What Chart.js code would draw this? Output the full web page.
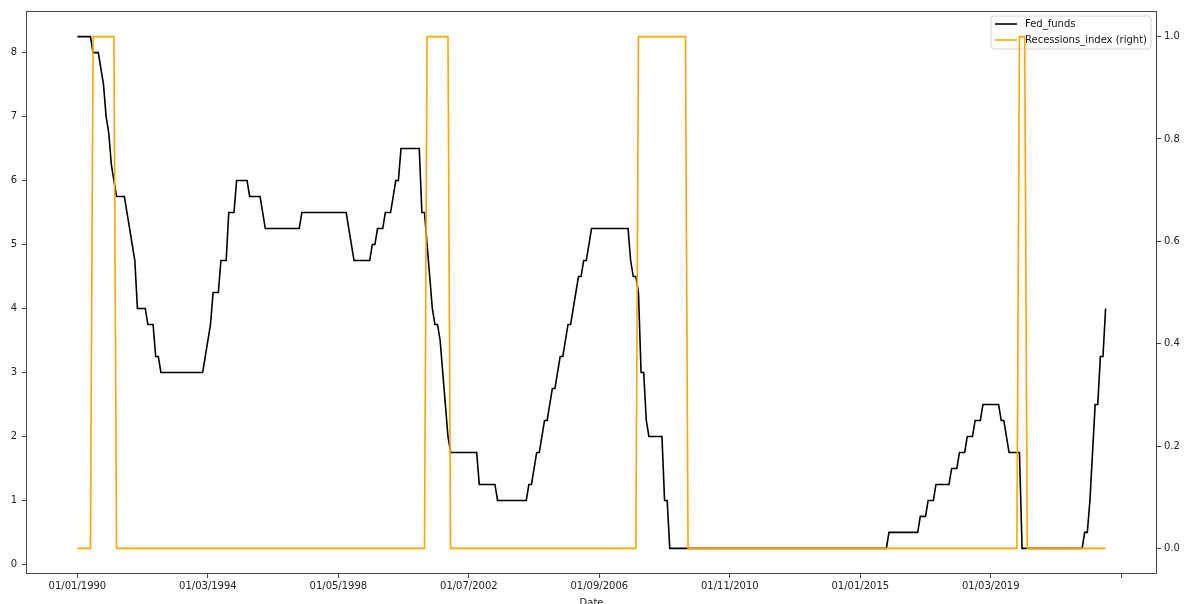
<!DOCTYPE html>
<html>
<head>
<meta charset="utf-8">
<title>Fed funds vs recessions</title>
<script src="https://cdn.jsdelivr.net/npm/chart.js@4.4.0/dist/chart.umd.min.js"></script>
<style>
    html, body { margin: 0; padding: 0; background: #fff; }
    canvas { display: block; }
</style>
</head>
<body>
<canvas id="fedChart" width="1192" height="604"></canvas>
<script>
// Monthly values, Jan 1990 .. Nov 2022 (one row per year)
const fedFunds = [
    8.25, 8.25, 8.25, 8.25, 8.25, 8.25, 8, 8, 8, 7.75, 7.5, 7,              // 1990
    6.75, 6.25, 6, 5.75, 5.75, 5.75, 5.75, 5.5, 5.25, 5, 4.75, 4,           // 1991
    4, 4, 4, 3.75, 3.75, 3.75, 3.25, 3.25, 3, 3, 3, 3,                      // 1992
    3, 3, 3, 3, 3, 3, 3, 3, 3, 3, 3, 3,                                     // 1993
    3, 3.25, 3.5, 3.75, 4.25, 4.25, 4.25, 4.75, 4.75, 4.75, 5.5, 5.5,       // 1994
    5.5, 6, 6, 6, 6, 6, 5.75, 5.75, 5.75, 5.75, 5.75, 5.5,                  // 1995
    5.25, 5.25, 5.25, 5.25, 5.25, 5.25, 5.25, 5.25, 5.25, 5.25, 5.25, 5.25, // 1996
    5.25, 5.25, 5.5, 5.5, 5.5, 5.5, 5.5, 5.5, 5.5, 5.5, 5.5, 5.5,           // 1997
    5.5, 5.5, 5.5, 5.5, 5.5, 5.5, 5.5, 5.5, 5.25, 5, 4.75, 4.75,            // 1998
    4.75, 4.75, 4.75, 4.75, 4.75, 5, 5, 5.25, 5.25, 5.25, 5.5, 5.5,         // 1999
    5.5, 5.75, 6, 6, 6.5, 6.5, 6.5, 6.5, 6.5, 6.5, 6.5, 6.5,                // 2000
    5.5, 5.5, 5, 4.5, 4, 3.75, 3.75, 3.5, 3, 2.5, 2, 1.75,                  // 2001
    1.75, 1.75, 1.75, 1.75, 1.75, 1.75, 1.75, 1.75, 1.75, 1.75, 1.25, 1.25, // 2002
    1.25, 1.25, 1.25, 1.25, 1.25, 1, 1, 1, 1, 1, 1, 1,                      // 2003
    1, 1, 1, 1, 1, 1.25, 1.25, 1.5, 1.75, 1.75, 2, 2.25,                    // 2004
    2.25, 2.5, 2.75, 2.75, 3, 3.25, 3.25, 3.5, 3.75, 3.75, 4, 4.25,         // 2005
    4.5, 4.5, 4.75, 4.75, 5, 5.25, 5.25, 5.25, 5.25, 5.25, 5.25, 5.25,      // 2006
    5.25, 5.25, 5.25, 5.25, 5.25, 5.25, 5.25, 5.25, 4.75, 4.5, 4.5, 4.25,   // 2007
    3, 3, 2.25, 2, 2, 2, 2, 2, 2, 1, 1, 0.25,                               // 2008
    0.25, 0.25, 0.25, 0.25, 0.25, 0.25, 0.25, 0.25, 0.25, 0.25, 0.25, 0.25, // 2009
    0.25, 0.25, 0.25, 0.25, 0.25, 0.25, 0.25, 0.25, 0.25, 0.25, 0.25, 0.25, // 2010
    0.25, 0.25, 0.25, 0.25, 0.25, 0.25, 0.25, 0.25, 0.25, 0.25, 0.25, 0.25, // 2011
    0.25, 0.25, 0.25, 0.25, 0.25, 0.25, 0.25, 0.25, 0.25, 0.25, 0.25, 0.25, // 2012
    0.25, 0.25, 0.25, 0.25, 0.25, 0.25, 0.25, 0.25, 0.25, 0.25, 0.25, 0.25, // 2013
    0.25, 0.25, 0.25, 0.25, 0.25, 0.25, 0.25, 0.25, 0.25, 0.25, 0.25, 0.25, // 2014
    0.25, 0.25, 0.25, 0.25, 0.25, 0.25, 0.25, 0.25, 0.25, 0.25, 0.25, 0.5,  // 2015
    0.5, 0.5, 0.5, 0.5, 0.5, 0.5, 0.5, 0.5, 0.5, 0.5, 0.5, 0.75,            // 2016
    0.75, 0.75, 1, 1, 1, 1.25, 1.25, 1.25, 1.25, 1.25, 1.25, 1.5,           // 2017
    1.5, 1.5, 1.75, 1.75, 1.75, 2, 2, 2, 2.25, 2.25, 2.25, 2.5,             // 2018
    2.5, 2.5, 2.5, 2.5, 2.5, 2.5, 2.25, 2.25, 2, 1.75, 1.75, 1.75,          // 2019
    1.75, 1.75, 0.25, 0.25, 0.25, 0.25, 0.25, 0.25, 0.25, 0.25, 0.25, 0.25, // 2020
    0.25, 0.25, 0.25, 0.25, 0.25, 0.25, 0.25, 0.25, 0.25, 0.25, 0.25, 0.25, // 2021
    0.25, 0.25, 0.5, 0.5, 1, 1.75, 2.5, 2.5, 3.25, 3.25, 4                  // 2022
];

const recessionIndex = [
    0, 0, 0, 0, 0, 0, 1, 1, 1, 1, 1, 1, // 1990
    1, 1, 1, 0, 0, 0, 0, 0, 0, 0, 0, 0, // 1991
    0, 0, 0, 0, 0, 0, 0, 0, 0, 0, 0, 0, // 1992
    0, 0, 0, 0, 0, 0, 0, 0, 0, 0, 0, 0, // 1993
    0, 0, 0, 0, 0, 0, 0, 0, 0, 0, 0, 0, // 1994
    0, 0, 0, 0, 0, 0, 0, 0, 0, 0, 0, 0, // 1995
    0, 0, 0, 0, 0, 0, 0, 0, 0, 0, 0, 0, // 1996
    0, 0, 0, 0, 0, 0, 0, 0, 0, 0, 0, 0, // 1997
    0, 0, 0, 0, 0, 0, 0, 0, 0, 0, 0, 0, // 1998
    0, 0, 0, 0, 0, 0, 0, 0, 0, 0, 0, 0, // 1999
    0, 0, 0, 0, 0, 0, 0, 0, 0, 0, 0, 0, // 2000
    0, 0, 1, 1, 1, 1, 1, 1, 1, 1, 1, 0, // 2001
    0, 0, 0, 0, 0, 0, 0, 0, 0, 0, 0, 0, // 2002
    0, 0, 0, 0, 0, 0, 0, 0, 0, 0, 0, 0, // 2003
    0, 0, 0, 0, 0, 0, 0, 0, 0, 0, 0, 0, // 2004
    0, 0, 0, 0, 0, 0, 0, 0, 0, 0, 0, 0, // 2005
    0, 0, 0, 0, 0, 0, 0, 0, 0, 0, 0, 0, // 2006
    0, 0, 0, 0, 0, 0, 0, 0, 0, 0, 0, 1, // 2007
    1, 1, 1, 1, 1, 1, 1, 1, 1, 1, 1, 1, // 2008
    1, 1, 1, 1, 1, 1, 0, 0, 0, 0, 0, 0, // 2009
    0, 0, 0, 0, 0, 0, 0, 0, 0, 0, 0, 0, // 2010
    0, 0, 0, 0, 0, 0, 0, 0, 0, 0, 0, 0, // 2011
    0, 0, 0, 0, 0, 0, 0, 0, 0, 0, 0, 0, // 2012
    0, 0, 0, 0, 0, 0, 0, 0, 0, 0, 0, 0, // 2013
    0, 0, 0, 0, 0, 0, 0, 0, 0, 0, 0, 0, // 2014
    0, 0, 0, 0, 0, 0, 0, 0, 0, 0, 0, 0, // 2015
    0, 0, 0, 0, 0, 0, 0, 0, 0, 0, 0, 0, // 2016
    0, 0, 0, 0, 0, 0, 0, 0, 0, 0, 0, 0, // 2017
    0, 0, 0, 0, 0, 0, 0, 0, 0, 0, 0, 0, // 2018
    0, 0, 0, 0, 0, 0, 0, 0, 0, 0, 0, 0, // 2019
    0, 1, 1, 1, 0, 0, 0, 0, 0, 0, 0, 0, // 2020
    0, 0, 0, 0, 0, 0, 0, 0, 0, 0, 0, 0, // 2021
    0, 0, 0, 0, 0, 0, 0, 0, 0, 0, 0     // 2022
];

// x ticks sit every 50 months; the last one has no label
const tickPositions = [0, 50, 100, 150, 200, 250, 300, 350, 400];
const tickLabels = ['01/01/1990', '01/03/1994', '01/05/1998', '01/07/2002',
                    '01/09/2006', '01/11/2010', '01/01/2015', '01/03/2019', ''];
const leftTicks = [0, 1, 2, 3, 4, 5, 6, 7, 8];
const rightTicks = [0, 0.2, 0.4, 0.6, 0.8, 1.0];

const seriesNames = ['Fed_funds', 'Recessions_index (right)'];
const seriesColors = ['#000000', '#FFA500'];

Chart.defaults.font.family = "'DejaVu Sans', sans-serif";
Chart.defaults.font.size = 10;
Chart.defaults.color = '#222';

function toPoints(values) {
    return values.map((v, i) => ({ x: i, y: v }));
}

// 5% margins around the data, like matplotlib
function padRange(lo, hi) {
    const m = (hi - lo) * 0.05;
    return { min: lo - m, max: hi + m };
}

const xRange = padRange(0, fedFunds.length - 1);
const yRange = padRange(Math.min(...fedFunds), Math.max(...fedFunds));
const y1Range = padRange(Math.min(...recessionIndex), Math.max(...recessionIndex));

const axisColor = '#444';

// frame on all four sides of the plot
const frame = {
    id: 'frame',
    afterDraw(chart) {
        const a = chart.chartArea;
        const ctx = chart.ctx;
        ctx.save();
        ctx.strokeStyle = axisColor;
        ctx.lineWidth = 1;
        ctx.strokeRect(Math.round(a.left) + 0.5, Math.round(a.top) + 0.5,
                       Math.round(a.right - a.left) - 1, Math.round(a.bottom - a.top) - 1);
        ctx.restore();
    }
};

// matplotlib-like legend box, drawn between the two lines
const legendBox = {
    id: 'legendBox',
    afterDatasetDraw(chart, args) {
        if (args.index !== 0) return;
        const a = chart.chartArea;
        const ctx = chart.ctx;
        const w = 160, h = 33;
        const x = a.right - 6 - w, y = a.top + 5;
        ctx.save();
        ctx.beginPath();
        ctx.roundRect(x, y, w, h, 3);
        ctx.fillStyle = 'rgba(255,255,255,0.8)';
        ctx.fill();
        ctx.strokeStyle = '#d4d4d4';
        ctx.lineWidth = 1;
        ctx.stroke();
        seriesNames.forEach((name, i) => {
            const rowY = y + 8 + i * 16;
            ctx.beginPath();
            ctx.moveTo(x + 4, rowY);
            ctx.lineTo(x + 26, rowY);
            ctx.strokeStyle = seriesColors[i];
            ctx.lineWidth = 1.6;
            ctx.stroke();
            ctx.fillStyle = '#111';
            ctx.font = "10px 'DejaVu Sans'";
            ctx.textBaseline = 'middle';
            ctx.fillText(name, x + 34, rowY);
        });
        ctx.restore();
    }
};

new Chart(document.getElementById('fedChart'), {
    type: 'line',
    data: {
        datasets: [
            {
                label: seriesNames[0],
                data: toPoints(fedFunds),
                borderColor: seriesColors[0],
                borderWidth: 1.6,
                pointRadius: 0,
                tension: 0,
                yAxisID: 'y',
                order: 1
            },
            {
                label: seriesNames[1],
                data: toPoints(recessionIndex),
                borderColor: seriesColors[1],
                borderWidth: 1.6,
                pointRadius: 0,
                tension: 0,
                yAxisID: 'y1',
                order: 0
            }
        ]
    },
    options: {
        responsive: false,
        animation: false,
        devicePixelRatio: 1,
        layout: { padding: { top: 11, left: 0, right: 0, bottom: 0 } },
        plugins: {
            legend: { display: false },
            tooltip: { enabled: false }
        },
        scales: {
            x: {
                type: 'linear',
                min: xRange.min,
                max: xRange.max,
                afterBuildTicks(scale) {
                    scale.ticks = tickPositions.map(v => ({ value: v }));
                },
                afterFit(scale) { scale.height = 30; },
                ticks: {
                    autoSkip: false,
                    maxRotation: 0,
                    padding: 2,
                    callback: (value, index) => tickLabels[index]
                },
                grid: { drawOnChartArea: false, drawTicks: true, tickLength: 4, color: axisColor },
                border: { display: false },
                title: {
                    display: true,
                    text: 'Date',
                    color: '#222',
                    font: { size: 10 },
                    padding: { top: 0, bottom: -5 }
                }
            },
            y: {
                position: 'left',
                min: yRange.min,
                max: yRange.max,
                afterBuildTicks(scale) {
                    scale.ticks = leftTicks.map(v => ({ value: v }));
                },
                afterFit(scale) { scale.width = 26; },
                ticks: { padding: 5, callback: v => String(v) },
                grid: { drawOnChartArea: false, drawTicks: true, tickLength: 4, color: axisColor },
                border: { display: false }
            },
            y1: {
                position: 'right',
                min: y1Range.min,
                max: y1Range.max,
                afterBuildTicks(scale) {
                    scale.ticks = rightTicks.map(v => ({ value: v }));
                },
                afterFit(scale) { scale.width = 35; },
                ticks: { padding: 3, callback: v => v.toFixed(1) },
                grid: { drawOnChartArea: false, drawTicks: true, tickLength: 4, color: axisColor },
                border: { display: false }
            }
        }
    },
    plugins: [legendBox, frame]
});
</script>
</body>
</html>
